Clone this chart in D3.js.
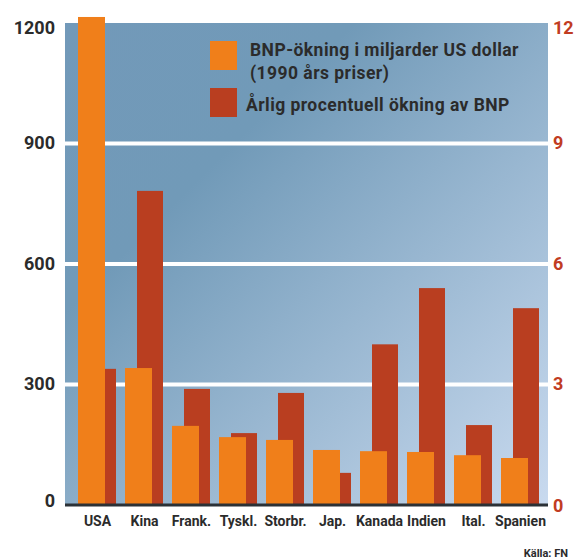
<!DOCTYPE html>
<html>
<head>
<meta charset="utf-8">
<script src="https://cdn.jsdelivr.net/npm/d3@7/dist/d3.min.js"></script>
<style>
  body { margin: 0; background: #fff; }
  text { font-family: Roboto, "DejaVu Sans", sans-serif; }
</style>
</head>
<body>
<script>
var countries = ['USA', 'Kina', 'Frank.', 'Tyskl.', 'Storbr.', 'Jap.', 'Kanada', 'Indien', 'Ital.', 'Spanien'];
var gdpIncrease = [1215, 341, 197, 169, 162, 137, 134, 132, 124, 117];
var gdpGrowth = [3.39, 7.82, 2.89, 1.79, 2.79, 0.8, 4.0, 5.4, 1.99, 4.9];
var leftTicks = [0, 300, 600, 900, 1200];
var rightTicks = [0, 3, 6, 9, 12];
var legendLabels = [['BNP-ökning i miljarder US dollar', '(1990 års priser)'], ['Årlig procentuell ökning av BNP']];

var width = 575, height = 560;
var plot = {left: 65, right: 548, top: 23, bottom: 505};

var svg = d3.select('body').append('svg')
    .attr('width', width)
    .attr('height', height);

var grad = svg.append('defs').append('linearGradient')
    .attr('id', 'bg')
    .attr('x1', 0).attr('y1', 0)
    .attr('x2', 1).attr('y2', 1);
grad.append('stop').attr('offset', 0).attr('stop-color', '#7299b9');
grad.append('stop').attr('offset', 0.3).attr('stop-color', '#719ab8');
grad.append('stop').attr('offset', 1).attr('stop-color', '#c9daef');

var x = d3.scaleBand().domain(countries).range([72, 542]).padding(0);
var yLeft = d3.scaleLinear().domain([0, 1200]).range([plot.bottom, plot.top]);
var yRight = d3.scaleLinear().domain([0, 12]).range([plot.bottom, plot.top]);

svg.append('rect')
    .attr('x', plot.left)
    .attr('y', plot.top)
    .attr('width', plot.right - plot.left)
    .attr('height', plot.bottom - plot.top)
    .attr('fill', 'url(#bg)');

// white grid lines
svg.selectAll('.grid')
    .data(leftTicks.filter(function(d) { return d > 0 && d < 1200; }))
    .enter()
    .append('line')
    .attr('class', 'grid')
    .attr('x1', plot.left)
    .attr('x2', plot.right)
    .attr('y1', function(d) { return yLeft(d); })
    .attr('y2', function(d) { return yLeft(d); })
    .attr('stroke', '#fff')
    .attr('stroke-width', 4);

var data = countries.map(function(c, i) {
  return {country: c, gdp: gdpIncrease[i], growth: gdpGrowth[i]};
});

// red bars behind
svg.selectAll('.growth')
    .data(data)
    .enter()
    .append('rect')
    .attr('class', 'growth')
    .attr('x', function(d) { return x(d.country) + 18; })
    .attr('width', 26)
    .attr('y', function(d) { return yRight(d.growth); })
    .attr('height', function(d) { return yRight(0) - yRight(d.growth); })
    .attr('fill', '#b93e20');

svg.selectAll('.gdp')
    .data(data)
    .enter()
    .append('rect')
    .attr('class', 'gdp')
    .attr('x', function(d) { return x(d.country) + 6; })
    .attr('width', 27)
    .attr('y', function(d) { return yLeft(d.gdp); })
    .attr('height', function(d) { return yLeft(0) - yLeft(d.gdp); })
    .attr('fill', '#f07f1a');

// baseline
svg.append('line')
    .attr('x1', plot.left)
    .attr('x2', plot.right)
    .attr('y1', plot.bottom)
    .attr('y2', plot.bottom)
    .attr('stroke', '#2b3136')
    .attr('stroke-width', 3);

// axes
var leftAxis = d3.axisLeft(yLeft).tickValues(leftTicks).tickFormat(d3.format('d')).tickSize(0).tickPadding(10);
var gl = svg.append('g')
    .attr('transform', 'translate(' + plot.left + ',0)')
    .call(leftAxis);
gl.select('.domain').remove();
gl.selectAll('text')
    .attr('fill', '#2b2b2b')
    .style('font-size', '18px')
    .style('font-weight', 'bold')
    .attr('dy', function(d) { return d === 1200 ? '0.6em' : d === 0 ? '0.1em' : '0.3em'; });

var rightAxis = d3.axisRight(yRight).tickValues(rightTicks).tickSize(0).tickPadding(5);
var gr = svg.append('g')
    .attr('transform', 'translate(' + plot.right + ',0)')
    .call(rightAxis);
gr.select('.domain').remove();
gr.selectAll('text')
    .attr('fill', '#c13c22')
    .style('font-size', '18px')
    .style('font-weight', 'bold')
    .attr('dy', function(d) { return d === 12 ? '0.6em' : d === 0 ? '0.35em' : '0.3em'; });

var bottomAxis = d3.axisBottom(x).tickSize(0).tickPadding(0);
var gb = svg.append('g')
    .attr('transform', 'translate(2,' + (plot.bottom + 11) + ')')
    .call(bottomAxis);
gb.select('.domain').remove();
gb.selectAll('text')
    .attr('fill', '#2b2b2b')
    .style('font-size', '14px')
    .style('font-weight', 'bold');

// legend
var legend = svg.append('g').attr('transform', 'translate(210, 41)');
var legendColors = ['#f07f1a', '#b93e20'];
var legendBaselines = [[15, 38], [70]];
legendColors.forEach(function(col, i) {
  legend.append('rect')
      .attr('x', 0)
      .attr('y', i * 47)
      .attr('width', 27)
      .attr('height', 29)
      .attr('fill', col);
  legendLabels[i].forEach(function(line, j) {
    legend.append('text')
        .attr('x', i === 0 ? 40 : 36)
        .attr('y', legendBaselines[i][j])
        .attr('fill', '#2b2b2b')
        .style('font-size', '17.5px')
        .style('font-weight', 'bold')
        .style('letter-spacing', '0.45px')
        .text(line);
  });
});

svg.append('text')
    .attr('x', 568)
    .attr('y', 557)
    .attr('text-anchor', 'end')
    .attr('fill', '#2b2b2b')
    .style('font-size', '11px')
    .style('font-weight', 'bold')
    .text('Källa: FN');
</script>
</body>
</html>
